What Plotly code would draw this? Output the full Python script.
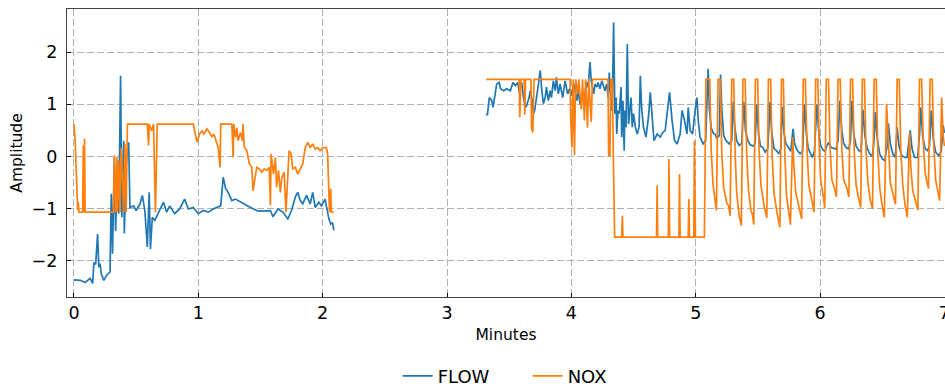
import plotly.graph_objects as go

# ---- FLOW, first recording block (minutes, amplitude)
flow_t1 = [0.00, 0.05, 0.09, 0.13, 0.15, 0.16, 0.175, 0.19, 0.20, 0.21, 0.22, 0.24, 0.26, 0.29,
           0.30, 0.31, 0.325, 0.335, 0.35, 0.36, 0.375, 0.385, 0.40, 0.405, 0.42, 0.44, 0.45,
           0.48, 0.50, 0.53, 0.55, 0.57, 0.59, 0.605, 0.615, 0.63, 0.65, 0.68, 0.72, 0.745,
           0.77, 0.81, 0.85, 0.89, 0.92, 0.96, 1.00, 1.04, 1.08, 1.12, 1.16, 1.18, 1.20, 1.22,
           1.24, 1.27, 1.30, 1.34, 1.38, 1.42, 1.47, 1.52, 1.58, 1.60, 1.64, 1.68, 1.72, 1.75,
           1.78, 1.80, 1.82, 1.84, 1.87, 1.90, 1.92, 1.94, 1.97, 1.99, 2.02, 2.03, 2.05, 2.065,
           2.08, 2.09]
flow_v1 = [-2.37, -2.38, -2.42, -2.34, -2.44, -2.05, -2.06, -1.49, -2.13, -2.06, -2.26, -2.38,
           -2.29, -2.22, -0.72, -1.87, -0.02, -1.43, -0.08, -1.10, 1.55, -1.17, 0.30, -1.48,
           -0.14, 0.27, -0.98, -0.95, -1.04, -0.92, -0.75, -1.04, -1.74, -0.69, -1.78, -1.17,
           -1.23, -1.07, -0.88, -1.07, -0.95, -1.10, -1.01, -0.82, -1.01, -0.98, -1.10, -1.04,
           -1.07, -1.01, -0.98, -0.95, -0.40, -0.62, -0.69, -0.85, -0.82, -0.88, -0.93, -0.98,
           -1.04, -1.05, -1.04, -1.16, -1.01, -1.07, -1.20, -1.04, -0.78, -0.69, -0.85, -0.91,
           -0.75, -0.91, -0.69, -0.98, -0.88, -0.95, -0.82, -0.95, -1.20, -1.30, -1.27, -1.42]

# ---- FLOW, second recording block
flow_t2 = [3.315, 3.325, 3.34, 3.36, 3.37, 3.385, 3.40, 3.42, 3.43, 3.455, 3.48, 3.51, 3.53,
           3.55, 3.57, 3.58, 3.60, 3.615, 3.63, 3.64, 3.66, 3.67, 3.685, 3.695, 3.705, 3.72,
           3.735, 3.75, 3.76, 3.775, 3.79, 3.80, 3.815, 3.83, 3.84, 3.855, 3.87, 3.88, 3.895,
           3.91, 3.93, 3.95, 3.97, 3.985, 4.00, 4.02, 4.03, 4.045, 4.055, 4.07, 4.085, 4.10,
           4.11, 4.12, 4.135, 4.15, 4.16, 4.18, 4.19, 4.205, 4.215, 4.23, 4.245, 4.26, 4.27,
           4.285, 4.295, 4.305, 4.32, 4.33, 4.34, 4.35, 4.36, 4.365, 4.375, 4.385, 4.40, 4.405,
           4.415, 4.425, 4.43, 4.44, 4.45, 4.46, 4.47, 4.48, 4.49, 4.50, 4.515, 4.53, 4.545,
           4.555, 4.565, 4.58, 4.60, 4.62, 4.635, 4.65, 4.665, 4.69, 4.715, 4.735, 4.755, 4.77,
           4.79, 4.81, 4.83, 4.85, 4.875, 4.89, 4.91, 4.93, 4.94, 4.955, 4.975, 4.995, 5.01,
           5.02, 5.035, 5.06, 5.08, 5.10, 5.11, 5.125, 5.14, 5.155, 5.17, 5.19, 5.20, 5.21,
           5.225, 5.245, 5.27, 5.29, 5.302, 5.315, 5.33, 5.35, 5.37, 5.387, 5.40, 5.42, 5.44,
           5.465, 5.478, 5.49, 5.505, 5.52, 5.54, 5.56, 5.58, 5.598, 5.61, 5.63, 5.65, 5.67,
           5.685, 5.695, 5.71, 5.725, 5.745, 5.765, 5.783, 5.795, 5.815, 5.84, 5.86, 5.875,
           5.89, 5.905, 5.925, 5.937, 5.955, 5.975, 5.99, 6.005, 6.025, 6.04, 6.055, 6.07,
           6.09, 6.11, 6.13, 6.145, 6.16, 6.175, 6.19, 6.21, 6.23, 6.245, 6.255, 6.27, 6.29,
           6.31, 6.33, 6.345, 6.36, 6.38, 6.40, 6.42, 6.435, 6.445, 6.46, 6.48, 6.50, 6.52,
           6.54, 6.55, 6.565, 6.585, 6.605, 6.62, 6.635, 6.655, 6.68, 6.70, 6.715, 6.725, 6.74,
           6.76, 6.785, 6.80, 6.81, 6.825, 6.845, 6.865, 6.88, 6.895, 6.91, 6.93, 6.955, 6.975,
           6.99, 7.00]
flow_v2 = [0.82, 0.79, 1.13, 1.07, 0.94, 1.13, 1.39, 1.42, 1.30, 1.26, 1.30, 1.26, 1.42,
           1.36, 1.42, 1.23, 1.42, 1.13, 0.94, 0.97, 1.13, 1.26, 1.07, 0.82, 0.88, 1.13,
           1.39, 1.65, 1.33, 1.01, 1.13, 1.33, 1.07, 1.26, 1.13, 1.45, 1.26, 1.52, 1.20,
           1.39, 1.13, 1.45, 1.20, 1.30, 1.17, 1.39, 1.26, 1.07, 1.26, 1.01, 1.20, 1.07,
           1.20, 1.42, 1.33, 1.81, 1.45, 1.20, 1.39, 1.33, 1.42, 1.30, 1.45, 1.30, 1.26,
           1.39, 1.13, 1.61, 0.88, 1.07, 2.57, 0.82, 1.13, 0.43, 0.88, 0.82, 1.33, 0.37,
           1.07, 0.11, 0.88, 0.56, 2.16, 0.62, 0.82, 1.13, 0.56, 0.82, 0.56, 0.43, 0.56,
           1.55, 0.94, 0.56, 0.37, 0.75, 1.23, 0.82, 0.30, 0.43, 0.37, 0.46, 0.50, 0.82,
           1.23, 0.69, 0.30, 0.24, 0.43, 0.88, 0.69, 0.43, 0.94, 0.50, 0.43, 0.88, 1.13,
           0.70, 0.37, 0.24, 0.30, 1.68, 0.90, 0.55, 0.45, 0.43, 0.35, 0.40, 1.57, 0.90,
           0.40, 0.30, 0.24, 0.30, 1.05, 0.55, 0.30, 0.21, 0.25, 1.05, 0.50, 0.30, 0.22,
           0.20, 0.25, 1.00, 0.45, 0.20, 0.17, 0.08, 0.15, 1.05, 0.50, 0.15, 0.11, 0.05,
           0.15, 0.95, 0.45, 0.25, 0.17, 0.10, 0.53, 0.25, 0.12, 0.05, 0.10, 1.00,
           0.45, 0.15, 0.05, -0.02, 0.10, 1.00, 0.45, 0.20, 0.12, 0.10, 0.20, 0.27,
           0.17, 0.15, 0.14, 0.30, 1.07, 0.50, 0.25, 0.17, 0.14, 0.30, 1.07, 0.45, 0.20,
           0.12, 0.08, 0.90, 0.40, 0.15, 0.05, 0.00, 0.30, 0.85, 0.35, 0.05, -0.05, -0.08,
           0.20, 0.63, 0.25, 0.05, -0.02, 0.56, 0.20, 0.02, -0.02, -0.02, 0.25, 0.50, 0.15,
           -0.02, -0.02, 0.40, 0.94, 0.40, 0.15, 0.11, 0.20, 0.88, 0.35, 0.08, 0.01, 0.10,
           0.60, 0.45]

# ---- NOX, first recording block
nox_t1 = [0.00, 0.01, 0.03, 0.035, 0.04, 0.07, 0.075, 0.08, 0.085, 0.09, 0.316, 0.325, 0.335,
          0.345, 0.35, 0.36, 0.37, 0.38, 0.40, 0.41, 0.42, 0.43, 0.59, 0.60, 0.605, 0.625,
          0.64, 0.655, 0.67, 0.96, 0.975, 0.99, 1.01, 1.03, 1.045, 1.07, 1.09, 1.11, 1.125,
          1.14, 1.16, 1.175, 1.18, 1.27, 1.28, 1.285, 1.30, 1.31, 1.32, 1.34, 1.355, 1.36,
          1.37, 1.39, 1.41, 1.43, 1.44, 1.455, 1.47, 1.49, 1.51, 1.53, 1.55, 1.57, 1.58,
          1.585, 1.605, 1.62, 1.63, 1.645, 1.66, 1.67, 1.69, 1.705, 1.715, 1.73, 1.745, 1.76,
          1.78, 1.80, 1.82, 1.84, 1.86, 1.88, 1.90, 1.92, 1.94, 1.96, 1.98, 2.00, 2.03,
          2.04, 2.055, 2.065, 2.07, 2.09]
nox_v1 = [0.62, 0.30, -1.04, -0.88, -1.07, -1.07, 0.21, -1.07, 0.34, -1.07, -1.07, 0.02, -1.07,
          -0.01, -1.07, -0.08, -1.07, 0.17, -1.07, 0.24, -1.07, 0.62, 0.62, 0.21, 0.62, 0.49,
          0.62, -1.07, 0.62, 0.62, 0.43, 0.27, 0.43, 0.49, 0.43, 0.53, 0.46, 0.37, 0.43,
          0.30, 0.17, -0.21, 0.62, 0.62, -0.02, 0.62, 0.37, 0.55, 0.30, 0.46, 0.30, 0.62,
          0.17, 0.11, -0.14, -0.21, -0.66, -0.43, -0.21, -0.24, -0.30, -0.24, -0.27, -0.21,
          -0.94, 0.05, -0.34, -0.02, -0.59, -0.27, -0.69, -0.43, -0.30, -1.07, -0.59, 0.11,
          0.05, -0.24, -0.21, -0.34, -0.24, -0.14, 0.17, 0.27, 0.17, 0.24, 0.14, 0.17, 0.11,
          0.17, 0.17, 0.05, -1.07, -0.62, -1.07, -1.07]

# ---- NOX, second recording block
nox_t2 = [3.315, 3.58, 3.585, 3.595, 3.62, 3.625, 3.632, 3.675, 3.68, 3.69, 3.70, 3.99, 3.995,
          4.005, 4.015, 4.025, 4.035, 4.05, 4.06, 4.08, 4.09, 4.105, 4.115, 4.13, 4.14, 4.16,
          4.17, 4.295, 4.30, 4.31, 4.318, 4.33, 4.338, 4.348, 4.405, 4.41, 4.415, 4.685,
          4.69, 4.695, 4.78, 4.785, 4.79, 4.865, 4.87, 4.875, 4.94, 4.945, 4.95, 4.985,
          4.99, 4.998, 5.07,
          5.082, 5.113, 5.125, 5.14, 5.155, 5.167,
          5.18, 5.198, 5.21, 5.225, 5.25, 5.265, 5.277,
          5.29, 5.306, 5.318, 5.33, 5.35, 5.367,
          5.38, 5.398, 5.41, 5.425, 5.445, 5.455, 5.467,
          5.48, 5.498, 5.51, 5.525, 5.55, 5.572,
          5.585, 5.603, 5.615, 5.63, 5.655, 5.677,
          5.69, 5.705, 5.717, 5.73, 5.75, 5.762,
          5.78, 5.79, 5.805, 5.83, 5.852,
          5.865, 5.882, 5.895, 5.91, 5.935, 5.952,
          5.965, 5.982, 5.993, 6.005, 6.025, 6.038,
          6.05, 6.068, 6.08, 6.095, 6.115, 6.132,
          6.145, 6.162, 6.175, 6.19, 6.215, 6.232,
          6.245, 6.262, 6.275, 6.29, 6.31, 6.327,
          6.34, 6.357, 6.37, 6.385, 6.405, 6.422,
          6.435, 6.452, 6.465, 6.48, 6.50, 6.517,
          6.535, 6.55, 6.565, 6.59, 6.607,
          6.62, 6.637, 6.65, 6.665, 6.685, 6.702,
          6.72, 6.73, 6.745, 6.77, 6.787,
          6.80, 6.817, 6.83, 6.845, 6.86, 6.872,
          6.885, 6.902, 6.915, 6.93, 6.95, 6.962,
          6.978, 6.99, 7.00]
nox_v2 = [1.48, 1.48, 0.75, 1.48, 1.48, 0.80, 1.48, 1.48, 0.55, 0.46, 1.48, 1.48, 0.70,
          0.17, 1.48, 0.02, 1.48, 1.20, 1.48, 0.90, 1.48, 0.69, 1.48, 0.55, 1.48, 0.66,
          1.48, 1.48, 0.02, 0.02, 1.48, 1.48, -0.05, -1.55, -1.55, -1.14, -1.55, -1.55,
          -0.56, -1.55, -1.55, -0.05, -1.55, -1.55, -0.34, -1.55, -1.55, -0.82, -1.55, -1.55,
          0.30, -1.55, -1.55,
          1.48, 1.48, 0.10, -0.55, -0.80, -1.04,
          1.48, 1.48, 0.05, -0.60, -0.90, -0.95, -1.14,
          1.48, 1.48, 0.00, -0.70, -1.15, -1.33,
          1.48, 1.48, 0.05, -0.65, -1.05, -1.10, -1.31,
          1.48, 1.48, 0.10, -0.55, -0.95, -1.18,
          1.48, 1.48, 0.00, -0.70, -1.10, -1.36,
          1.48, 1.48, 0.05, -0.75, -1.10, -1.31,
          0.37, -0.20, -0.70, -1.00, -1.20,
          1.48, 1.48, 0.15, -0.55, -0.85, -1.07,
          1.48, 1.48, 0.20, -0.45, -0.75, -1.00,
          1.48, 1.48, 0.20, -0.45, -0.60, -0.78,
          1.48, 1.48, 0.15, -0.45, -0.60, -0.78,
          1.48, 1.48, 0.10, -0.55, -0.80, -0.98,
          1.48, 1.48, 0.10, -0.50, -0.85, -1.00,
          1.48, 1.48, 0.05, -0.60, -0.95, -1.17,
          1.01, 0.10, -0.50, -0.75, -0.92,
          1.48, 1.48, 0.10, -0.55, -0.95, -1.17,
          0.46, -0.20, -0.65, -0.90, -1.03,
          1.48, 1.48, 0.30, -0.30, -0.50, -0.62,
          1.48, 1.48, 0.20, -0.45, -0.70, -0.85,
          1.13, 0.40, 0.20]

x_ticks = [0, 1, 2, 3, 4, 5, 6, 7]
y_ticks = [-2, -1, 0, 1, 2]

FLOW_COLOR = "#1f77b4"
NOX_COLOR = "#ff7f0e"
FONT = "DejaVu Sans"

# the two recording blocks are drawn as one trace with a break between them
flow_t = flow_t1 + [None] + flow_t2
flow_v = flow_v1 + [None] + flow_v2
nox_t = nox_t1 + [None] + nox_t2
nox_v = nox_v1 + [None] + nox_v2

fig = go.Figure()
fig.add_trace(go.Scatter(x=flow_t, y=flow_v, mode="lines", name="FLOW",
                         line=dict(color=FLOW_COLOR, width=1.7), connectgaps=False))
fig.add_trace(go.Scatter(x=nox_t, y=nox_v, mode="lines", name="NOX",
                         line=dict(color=NOX_COLOR, width=1.7), connectgaps=False))

axis_common = dict(
    showline=True, linecolor="#444444", linewidth=1.2, mirror=True,
    showgrid=True, gridcolor="#b0b0b0", gridwidth=1, griddash="7px,3px",
    zeroline=False, ticks="inside", ticklen=4, tickcolor="#000000", tickwidth=1,
    tickfont=dict(family=FONT, size=17.5, color="#000000"),
)

fig.update_xaxes(range=[-0.056, 7.005], tickmode="array", tickvals=x_ticks,
                 title=dict(text="Minutes", font=dict(family=FONT, size=15.5, color="#000000"),
                            standoff=7),
                 ticklabelstandoff=0, ticklabeloverflow="allow", **axis_common)
fig.update_yaxes(range=[-2.70, 2.83], tickmode="array", tickvals=y_ticks,
                 title=dict(text="Amplitude", font=dict(family=FONT, size=15.5, color="#000000"),
                            standoff=5),
                 ticklabelstandoff=5, **axis_common)

fig.update_layout(
    width=945, height=387,
    margin=dict(l=67, r=0, t=9, b=90, autoexpand=False),
    paper_bgcolor="white", plot_bgcolor="white",
    font=dict(family=FONT, color="#000000"),
    showlegend=True,
    legend=dict(orientation="h", x=0.3766, xanchor="left",
                yref="container", y=0.028, yanchor="middle",
                font=dict(family=FONT, size=18, color="#000000"),
                bgcolor="rgba(0,0,0,0)", itemwidth=30, entrywidth=85,
                tracegroupgap=0),
)

fig.write_html("out.html")
